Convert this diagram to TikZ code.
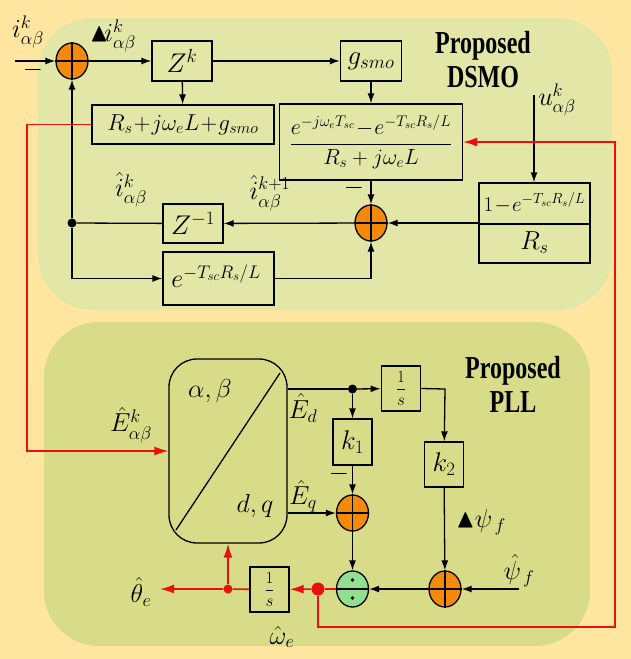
\RequirePackage{fix-cm}
\documentclass[tikz,border=0pt]{standalone}
\usepackage{amsmath,amssymb}
\usepackage{fontspec}
\setmainfont{Liberation Serif}
\usetikzlibrary{arrows.meta,shapes.geometric}
\definecolor{bgc}{HTML}{FFE6A0}
\definecolor{topc}{HTML}{E2E6A6}
\definecolor{botc}{HTML}{D8DC88}
\definecolor{sumc}{HTML}{F58A0A}
\definecolor{divc}{HTML}{90E090}
\definecolor{redc}{HTML}{E81010}
\tikzset{
  ln/.style={line width=1.3pt},
  blk/.style={draw, ln, fill=none, inner sep=0pt, font=\fontsize{27}{30}\selectfont},
  sum/.style={draw, ln, fill=sumc, ellipse, minimum width=32pt, minimum height=36pt, inner sep=0pt},
  lbl/.style={font=\fontsize{26}{30}\selectfont, inner sep=0pt},
  ttl/.style={font=\fontsize{32}{34}\bfseries\selectfont, align=center, inner sep=0pt, xscale=0.75},
  sig/.style={ln, -{Latex[length=10pt,width=7pt]}},
  rsig/.style={line width=1.6pt, redc, -{Latex[length=14pt,width=9pt]}},
  rline/.style={line width=1.6pt, redc},
  dot/.style={circle, fill, inner sep=0pt, minimum size=9pt},
}
\begin{document}
\begin{tikzpicture}[x=1pt,y=-1pt]
\fill[bgc] (0,0) rectangle (631,659);
\useasboundingbox (0,0) rectangle (631,659);
\fill[topc, rounded corners=55pt] (38,18) rectangle (612,310);
\fill[botc, rounded corners=55pt] (44,322) rectangle (590,646);

% ---- DSMO ----
\node[sum] (s1) at (72,61) {};
\draw[ln] (s1.north) -- (s1.south) (s1.west) -- (s1.east);
\node[blk, minimum width=60pt, minimum height=40pt] (zk) at (182,61) {$Z^{k}$};
\node[blk, minimum width=61pt, minimum height=40pt] (gs) at (371,61) {$g_{smo}$};
\node[blk, minimum width=182pt, minimum height=39pt, font=\fontsize{23}{26}\selectfont] (rs) at (183,124.5) {$R_s\!+\!j\omega_e L\!+\!g_{smo}$};
\node[blk, minimum width=183pt, minimum height=76pt, font=\fontsize{22}{26}\selectfont] (fr) at (371,142)
  {$\dfrac{e^{-j\omega_e T_{sc}}\!-\!e^{-T_{sc}R_s/L}}{R_s+j\omega_e L}$};
\node[blk, minimum width=111pt, minimum height=80pt] (ob) at (534.5,223) {};
\draw[ln] (ob.west |- 0,224) -- (ob.east |- 0,224);
\node[lbl, font=\fontsize{21}{24}\selectfont] (obn) at (534.5,203) {$1\!-\!e^{-T_{sc}R_s/L}$};
\node[lbl] (obd) at (534.5,243) {$R_s$};
\node[sum] (s2) at (371,223) {};
\draw[ln] (s2.north) -- (s2.south) (s2.west) -- (s2.east);
\node[blk, minimum width=60pt, minimum height=39pt] (zi) at (193,223.5) {$Z^{-1}$};
\node[blk, minimum width=111pt, minimum height=53pt] (ex) at (218.5,278.5) {};
\node[lbl] (exl) at (216,276) {$e^{-T_{sc}R_s/L}$};
\node[dot] (d1) at (72,223) {};
\node[ttl] (t1) at (483,60) {Proposed\\DSMO};

\coordinate (in1) at (15,61);
\coordinate (u0) at (534,95);
\draw[sig] (in1) -- (s1);
\draw[sig] (s1) -- (zk);
\draw[sig] (zk) -- (gs);
\draw[sig] (zk) -- (rs);
\draw[sig] (gs) -- (fr);
\draw[sig] (u0) -- (ob.north -| u0);
\draw[sig] (fr) -- (s2);
\draw[sig] (ob.west |- s2) -- (s2);
\draw[sig] (s2) -- (zi);
\draw[ln] (zi) -- (d1);
\draw[sig] (d1) -- (s1);
\draw[sig] (d1) |- (ex);
\draw[sig] (ex.east) -| (s2);

\node[lbl] (li) at (28,32) {$i_{\alpha\beta}^{k}$};
\node[lbl] (lm1) at (33,70) {$-$};
\node[lbl] (ld) at (113,36) {$\blacktriangle\! i_{\alpha\beta}^{k}$};
\node[lbl] (lu) at (557,100) {$u_{\alpha\beta}^{k}$};
\node[lbl] (lm2) at (354,188) {$-$};
\node[lbl] (lih) at (131,190) {$\hat{i}_{\alpha\beta}^{k}$};
\node[lbl] (lih1) at (270,193) {$\hat{i}_{\alpha\beta}^{k+1}$};

% ---- PLL ----
\node[draw, ln, rounded corners=28pt, minimum width=118pt, minimum height=184pt] (pk) at (228,451) {};
\draw[ln] (280,373) -- (176,530);
\node[lbl] (lab) at (210,391) {$\alpha,\beta$};
\node[lbl] (ldq) at (255,506) {$d,q$};
\node[dot] (d2) at (352.5,389) {};
\node[blk, minimum width=39.5pt, minimum height=45pt, font=\fontsize{17}{20}\selectfont] (in) at (401,388.5) {$\dfrac{1}{s}$};
\node[blk, minimum width=39pt, minimum height=46pt] (k1) at (352.5,442) {$k_1$};
\node[blk, minimum width=39pt, minimum height=45pt] (k2) at (444,464.5) {$k_2$};
\node[sum] (s3) at (352.5,513) {};
\draw[ln] (s3.north) -- (s3.south) (s3.west) -- (s3.east);
\node[sum] (s4) at (445,589) {};
\draw[ln] (s4.north) -- (s4.south) (s4.west) -- (s4.east);
\node[sum, fill=divc] (dv) at (352.5,589) {};
\draw[ln] (dv.west) -- (dv.east);
\fill (352.5,580) circle (1.8pt) (352.5,598) circle (1.8pt);
\node[blk, minimum width=39pt, minimum height=45pt, font=\fontsize{17}{20}\selectfont] (in2) at (269.5,589.5) {$\dfrac{1}{s}$};
\node[dot, redc, minimum size=13pt] (r1) at (318,589) {};
\node[dot, redc] (r2) at (228,589) {};
\node[ttl] (t2) at (513,384) {Proposed\\PLL};

\coordinate (ed) at (pk.east |- d2);
\coordinate (eq) at (pk.east |- s3);
\coordinate (th) at (160,589);
\coordinate (ps) at (519,589);
\coordinate (c1) at (445,389);
\draw[ln] (ed) -- (d2);
\draw[sig] (d2) -- (in);
\draw[sig] (d2) -- (k1);
\draw[sig] (k1) -- (s3);
\draw[sig] (eq) -- (s3);
\draw[sig] (in.east) -- (c1) -- (k2);
\draw[sig] (k2) -- (s4);
\draw[sig] (ps) -- (s4);
\draw[sig] (s4) -- (dv);
\draw[sig] (s3) -- (dv);

\node[lbl] (lE) at (131,425) {$\hat{E}_{\alpha\beta}^{k}$};
\node[lbl] (lEd) at (303,408) {$\hat{E}_{d}$};
\node[lbl] (lEq) at (303,496) {$\hat{E}_{q}$};
\node[lbl] (lm3) at (339,474) {$-$};
\node[lbl] (ldp) at (481,522) {$\blacktriangle\psi_{\,f}$};
\node[lbl] (lps) at (519,571) {$\hat{\psi}_{\,f}$};
\node[lbl] (lth) at (141,592) {$\hat{\theta}_{e}$};
\node[lbl] (lom) at (282,637) {$\hat{\omega}_{e}$};

% ---- red paths ----
\coordinate (ra) at (27,124.5);
\coordinate (rb) at (615,627);
\draw[rline] (dv) -- (r1);
\draw[rsig] (r1) -- (in2);
\draw[rline] (in2) -- (r2);
\draw[rsig] (r2) -- (th);
\draw[rsig] (r2) -- (pk.south -| r2);
\draw[rsig] (rs.west) -- (ra) |- (pk.west |- 0,451);
\draw[rsig] (r1) |- (rb) |- (fr.east);
\end{tikzpicture}
\end{document}
